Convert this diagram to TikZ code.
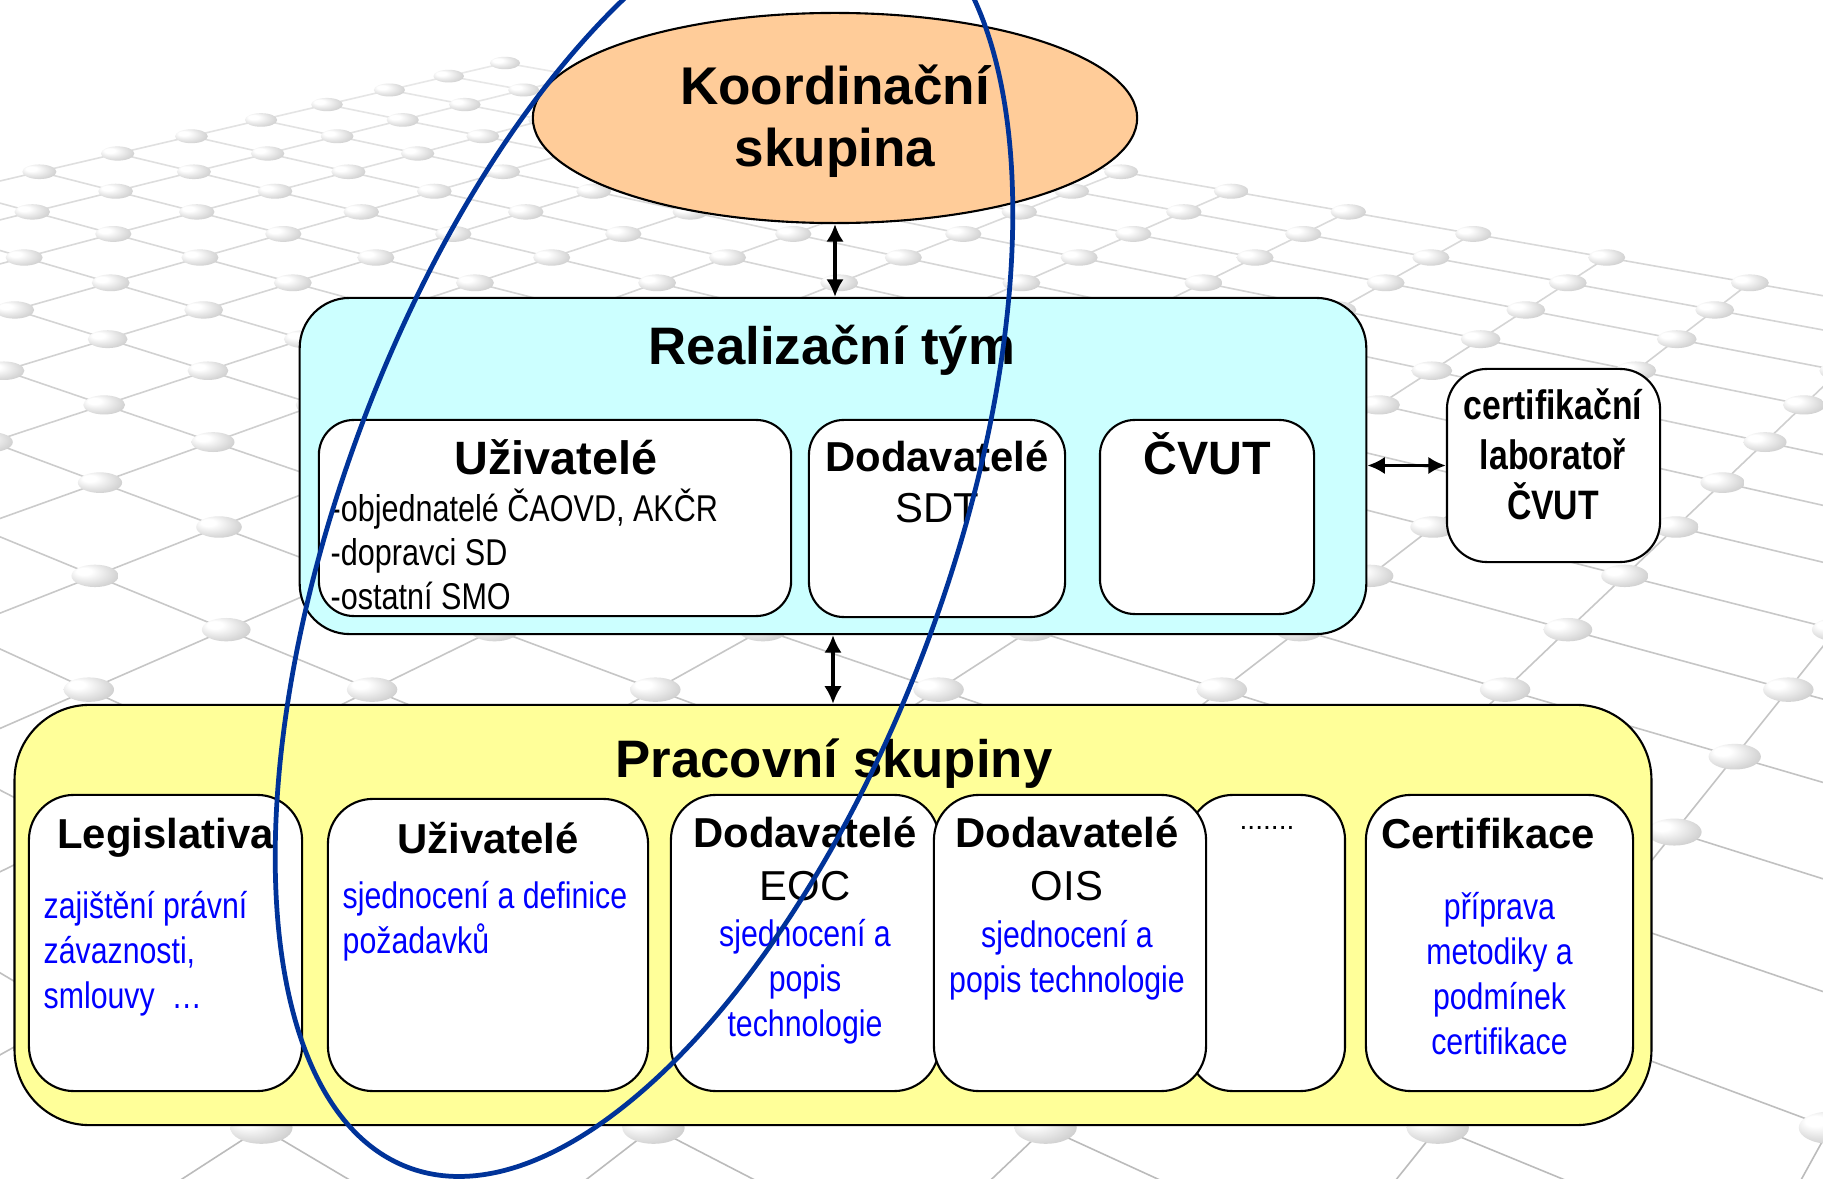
\documentclass[tikz,border=0pt]{standalone}
\usepackage{fontspec}
\setmainfont{Liberation Sans}
\newfontfamily\narrowfont{Liberation Sans}[FakeStretch=0.82]
\usetikzlibrary{shapes.geometric,arrows.meta}
\definecolor{peach}{RGB}{255,204,153}
\definecolor{lcyan}{RGB}{204,255,255}
\definecolor{lyellow}{RGB}{255,255,153}
\definecolor{ringblue}{RGB}{0,51,153}
\pgfdeclareradialshading{pearl}{\pgfpoint{-14bp}{12bp}}{color(0bp)=(white); color(8bp)=(white); color(30bp)=(gray!35); color(50bp)=(gray!75)}
\tikzset{
  box/.style={draw, fill=white, line width=0.6pt, rounded corners=0.45cm, inner sep=0pt},
  headtxt/.style={font=\bfseries\fontsize{11.9}{14.8}\selectfont, anchor=base, align=center},
  desc/.style={font=\narrowfont\fontsize{10.5}{12.75}\selectfont, text=blue, anchor=base},
  dbl/.style={{Latex[length=5pt,width=5pt]}-{Latex[length=5pt,width=5pt]}, line width=1pt},
}
\begin{document}
\begin{tikzpicture}[x=0.01cm, y=-0.01cm,
  declare function={dd(\p,\q)=1-0.025*(\p+\q);
    gx(\p,\q)=(505+60*\p-67.5*\q)/dd(\p,\q);
    gy(\p,\q)=513/dd(\p,\q)-450;}]
\useasboundingbox[fill=white] (0,0) rectangle (1823,1179);
% floor grid
\begin{scope}
\clip (0,0) rectangle (1823,1179);
\foreach \i in {0,...,17}
  \foreach \j in {0,...,18}{
    \ifnum\numexpr\i+\j\relax<29
    \pgfmathtruncatemacro\c{70-52*dd(\i,\j)}
    \draw[gray!\c, line width=0.45pt] ({gx(\i,\j)},{gy(\i,\j)}) -- ({gx(\i+1,\j)},{gy(\i+1,\j)})
      ({gx(\i,\j)},{gy(\i,\j)}) -- ({gx(\i,\j+1)},{gy(\i,\j+1)});
    \fi}
\foreach \i in {0,...,17}
  \foreach \j in {0,...,18}{
    \ifnum\numexpr\i+\j\relax<29
    \pgfmathsetmacro\rx{15*dd(\i,\j)^(-0.65)}
    \pgfmathsetmacro\ry{6.2*dd(\i,\j)^(-0.85)}
    \shade[shading=pearl] ({gx(\i,\j)},{gy(\i,\j)}) ellipse [x radius=\rx, y radius=\ry];
    \fi}
\end{scope}

% last line of a multi-line node sits on its base
\node[ellipse, draw, fill=peach, line width=0.6pt, inner sep=0pt,
  minimum width=6.04cm, minimum height=2.1cm] (koord) at (835,118) {};
\node[font=\bfseries\fontsize{15.1}{17.9}\selectfont, align=center, anchor=base] (koordt) at (835,167) {Koordinační\\skupina};

\node[box, fill=lcyan, rounded corners=0.5cm, minimum width=10.66cm, minimum height=3.36cm] (real) at (833,466) {};
\node[font=\bfseries\fontsize{15}{18}\selectfont, anchor=base] (realt) at (832,365) {Realizační tým};
\node[box, rounded corners=0.35cm, minimum width=4.72cm, minimum height=1.96cm] (uzr) at (555,518) {};
\node[font=\bfseries\fontsize{13.3}{16}\selectfont, anchor=base] (uzrt) at (556,475) {Uživatelé};
\node[font=\narrowfont\fontsize{10.6}{12.6}\selectfont, align=left, anchor=base west, inner sep=0pt] (uzrl) at (330,610)
  {-objednatelé ČAOVD, AKČR\\-dopravci SD\\-ostatní SMO};
\node[box, rounded corners=0.35cm, minimum width=2.56cm, minimum height=1.97cm] (dodr) at (937,518.5) {};
\node[headtxt, font=\bfseries\fontsize{11.9}{14.5}\selectfont] (dodrt) at (937,522) {Dodavatelé\\\mdseries SDT};
\node[box, rounded corners=0.35cm, minimum width=2.14cm, minimum height=1.94cm] (cvut) at (1207,517) {};
\node[font=\bfseries\fontsize{13.3}{16}\selectfont, anchor=base] (cvutt) at (1207,475) {ČVUT};

\node[box, rounded corners=0.4cm, minimum width=2.13cm, minimum height=1.93cm] (lab) at (1553.5,465.5) {};
\node[font=\narrowfont\bfseries\fontsize{11.7}{14.2}\selectfont, align=center, anchor=base] (labt) at (1553,519)
  {certifikační\\laboratoř\\ČVUT};

\node[box, fill=lyellow, rounded corners=0.75cm, minimum width=16.36cm, minimum height=4.2cm] (prac) at (833,915) {};
\node[font=\bfseries\fontsize{15}{18}\selectfont, anchor=base] (pract) at (834,777) {Pracovní skupiny};

\node[box, minimum width=2.73cm, minimum height=2.96cm] (leg) at (165.5,943) {};
\node[headtxt] (legt) at (165.5,848) {Legislativa};
\node[desc, align=left, anchor=base west, inner sep=0pt] (legd) at (43,1008) {zajištění právní\\závaznosti,\\smlouvy~~…};

\node[box, minimum width=3.2cm, minimum height=2.92cm] (uzp) at (488,945) {};
\node[headtxt] (uzpt) at (488,853) {Uživatelé};
\node[desc, align=left, anchor=base west, inner sep=0pt] (uzpd) at (342,953) {sjednocení a definice\\požadavků};

\node[box, minimum width=2.68cm, minimum height=2.96cm] (eoc) at (805,943) {};
\node[headtxt] (eoct) at (805,900) {Dodavatelé\\\mdseries EOC};
\node[desc, align=center] (eocd) at (805,1036) {sjednocení a\\popis\\technologie};

\node[box, minimum width=1.57cm, minimum height=2.96cm] (dots) at (1266.5,943) {};
\node[font=\fontsize{8}{9}\selectfont, anchor=base] (dotst) at (1267,829) {.......};

\node[box, minimum width=2.72cm, minimum height=2.96cm] (ois) at (1070,943) {};
\node[headtxt] (oist) at (1067,900) {Dodavatelé\\\mdseries OIS};
\node[desc, align=center] (oisd) at (1067,992) {sjednocení a\\popis technologie};

\node[box, minimum width=2.67cm, minimum height=2.96cm] (cert) at (1499.5,943) {};
\node[headtxt] (certt) at (1488,848) {Certifikace};
\node[desc, align=center] (certd) at (1499.5,1054) {příprava\\metodiky a\\podmínek\\certifikace};

\draw[dbl] (koord.south) -- (koord.south |- real.north);
\draw[dbl] (real.east |- lab.west) -- (lab.west);
\draw[dbl] (real.south) -- (real.south |- prac.north);

% ring round the user side
\draw[ringblue, line width=1.35pt, rotate around={69.6:(644,535)}] (644,535) ellipse [x radius=675, y radius=303];
\end{tikzpicture}
\end{document}
